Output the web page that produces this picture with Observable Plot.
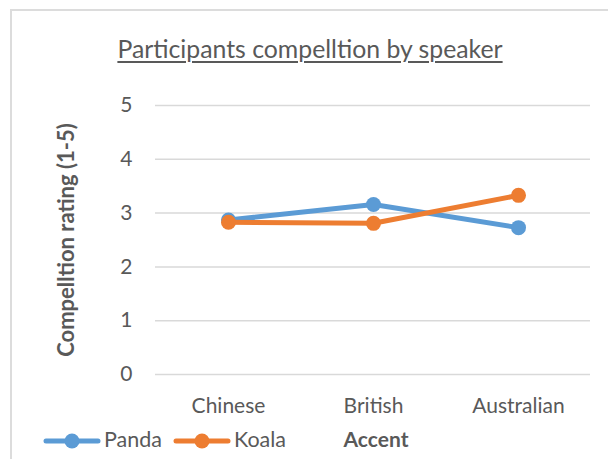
<!DOCTYPE html>
<html>
<head>
<meta charset="utf-8">
<script src="https://cdn.jsdelivr.net/npm/d3@7"></script>
<script src="https://cdn.jsdelivr.net/npm/@observablehq/plot@0.6"></script>
<style>
  html, body { margin: 0; padding: 0; background: #fff; }
  #chart {
    position: relative; width: 608px; height: 459px; overflow: hidden;
    font-family: Lato, "Open Sans", sans-serif; color: #595959; background: #fff;
  }
  #frame {
    position: absolute; left: 10px; top: 9px; width: 700px; height: 600px;
    border-top: 2px solid #dcdcdc; border-left: 2px solid #dcdcdc;
  }
  #title {
    position: absolute; left: 0; width: 620px; top: 37px; text-align: center;
    font-size: 24.8px; line-height: 24.8px; text-decoration: underline;
    text-underline-offset: 3px; text-decoration-thickness: 1.5px;
  }
  #legend {
    position: absolute; left: 43px; top: 429px; display: flex; align-items: center;
    font-size: 21.5px; line-height: 21px;
  }
  #legend .item { display: flex; align-items: center; margin-right: 11px; }
  #legend svg { display: block; margin-right: 3px; }
  #plot { position: absolute; left: 0; top: 0; }
</style>
</head>
<body>
<div id="chart">
  <div id="frame"></div>
  <div id="plot"></div>
  <div id="title">Participants compelltion by speaker</div>
  <div id="legend"></div>
</div>
<script>
// Mean compellation rating per speaker accent, for each speaker
const accents = ["Chinese", "British", "Australian"];
const seriesNames = ["Panda", "Koala"];
const pandaValues = [2.87, 3.16, 2.73];
const koalaValues = [2.83, 2.81, 3.33];
const yTicks = [0, 1, 2, 3, 4, 5];
const colors = ["#5B9BD5", "#ED7D31"];
const xTitle = "Accent";
const yTitle = "Compelltion rating (1-5)";

const rows = [
  ...accents.map((a, i) => ({accent: a, series: seriesNames[0], value: pandaValues[i]})),
  ...accents.map((a, i) => ({accent: a, series: seriesNames[1], value: koalaValues[i]}))
];

// each series: line first, then its markers, so later series sit on top
const seriesMarks = seriesNames.flatMap((name, k) => [
  Plot.line(rows, {filter: d => d.series === name, x: "accent", y: "value",
    stroke: colors[k], strokeWidth: 5, strokeLinejoin: "round", strokeLinecap: "round"}),
  Plot.dot(rows, {filter: d => d.series === name, x: "accent", y: "value",
    r: 7.5, fill: colors[k], stroke: "none"})
]);

const plot = Plot.plot({
  width: 608,
  height: 459,
  marginLeft: 155,
  marginRight: 18,
  marginTop: 105,
  marginBottom: 85,
  style: {fontFamily: "Lato, 'Open Sans', sans-serif", color: "#595959", background: "transparent"},
  x: {type: "point", domain: accents, padding: 0.5, axis: null},
  y: {domain: [0, 5], axis: null},
  marks: [
    Plot.gridY(yTicks, {stroke: "#d9d9d9", strokeOpacity: 1, strokeWidth: 1.5}),
    Plot.axisY(yTicks, {tickSize: 0, tickPadding: 23, fontSize: 21, label: null, tickFormat: d3.format("d")}),
    Plot.axisX(accents, {tickSize: 0, tickPadding: 24, fontSize: 21, label: null}),
    Plot.text([xTitle], {frameAnchor: "bottom", lineAnchor: "top", dy: 58, dx: 3,
      fontSize: 21, fontWeight: "bold", fill: "#595959"}),
    Plot.text([yTitle], {frameAnchor: "left", textAnchor: "middle", rotate: -90, dx: -89, lineAnchor: "middle",
      fontSize: 22, fontWeight: "bold", fill: "#595959"}),
    ...seriesMarks
  ]
});
document.getElementById("plot").appendChild(plot);

// legend: line-with-marker swatch and series name
const legend = d3.select("#legend");
seriesNames.forEach((name, k) => {
  const item = legend.append("div").attr("class", "item");
  const sw = item.append("svg").attr("width", 58).attr("height", 20);
  sw.append("line").attr("x1", 3).attr("x2", 55).attr("y1", 11).attr("y2", 11)
    .attr("stroke", colors[k]).attr("stroke-width", 5).attr("stroke-linecap", "round");
  sw.append("circle").attr("cx", 29).attr("cy", 11).attr("r", 7.5).attr("fill", colors[k]);
  item.append("span").text(name);
});
</script>
</body>
</html>
